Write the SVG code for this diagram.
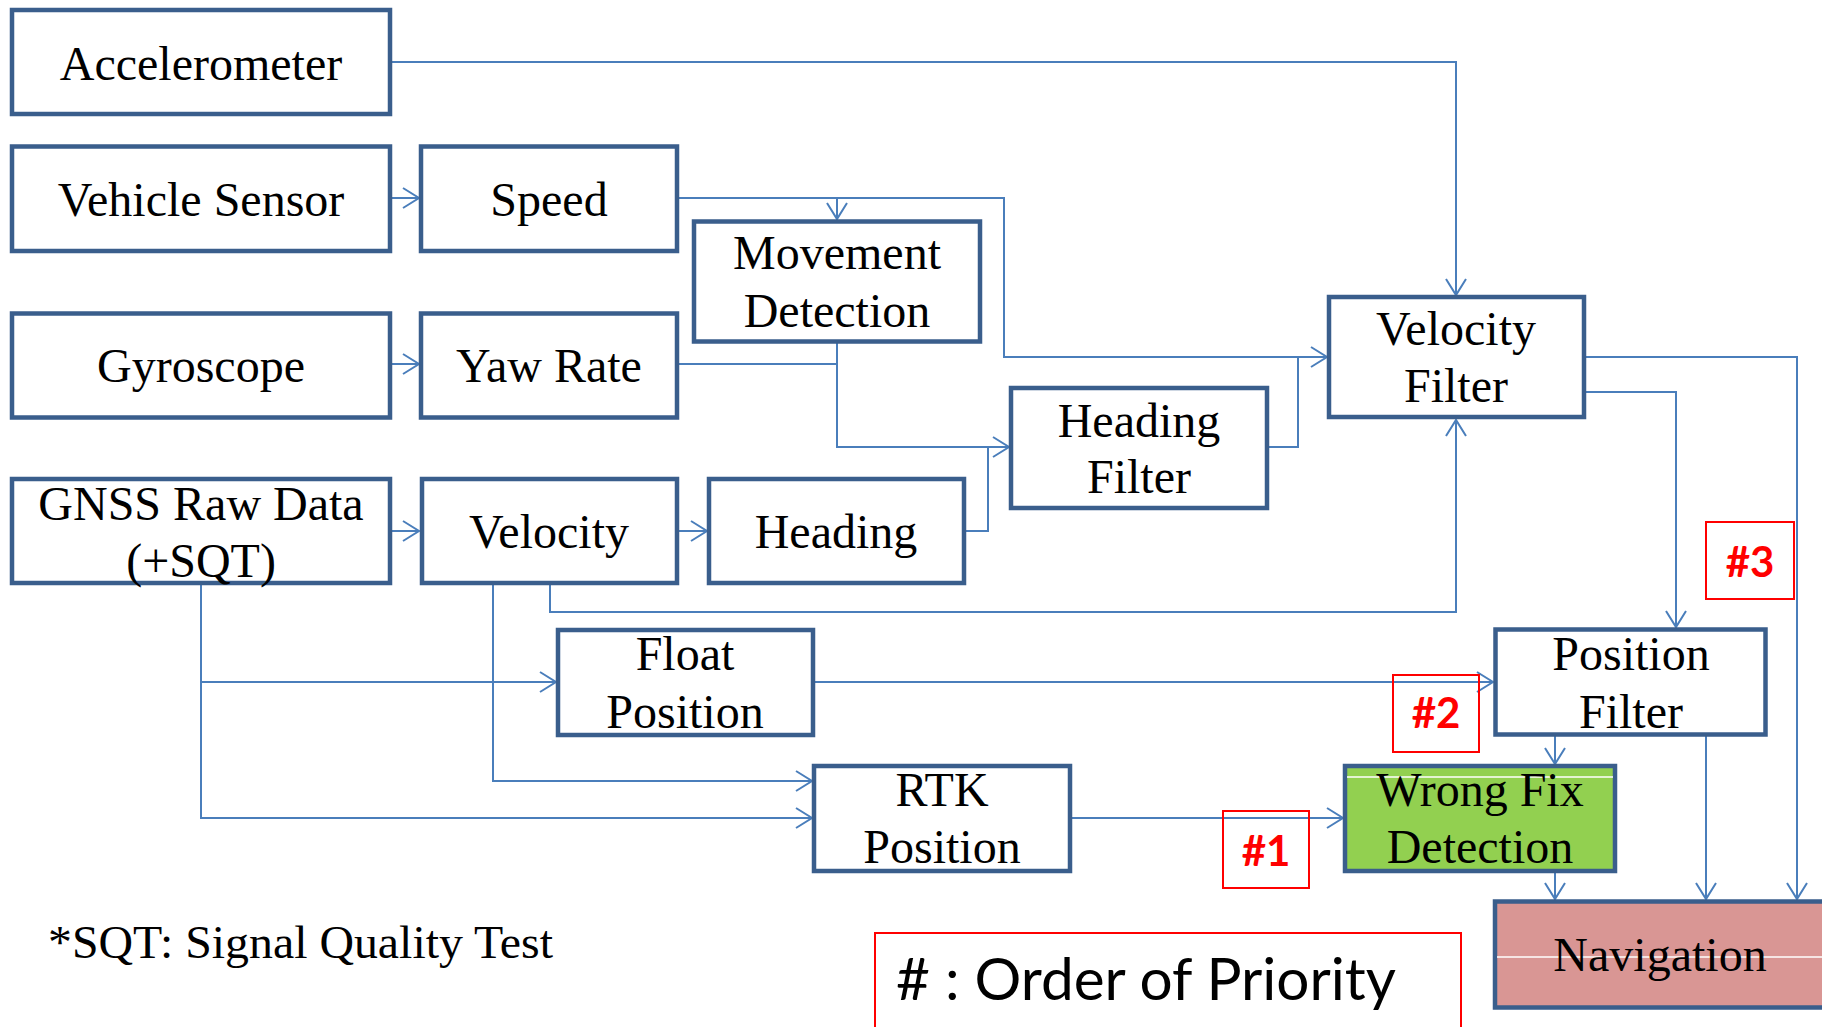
<svg xmlns="http://www.w3.org/2000/svg" width="1822" height="1027" viewBox="0 0 1822 1027">
  <style>
    .box { fill: #ffffff; stroke: #3A5E8C; stroke-width: 4.5; }
    .lbl { font-family: "Liberation Serif", "Times New Roman", serif; font-size: 48px; fill: #000000; text-anchor: middle; }
    .wire { fill: none; stroke: #4A7EBB; stroke-width: 2; }
    .tag { fill: none; stroke: #FF0000; stroke-width: 2; }
    .tagtxt { font-family: Lato, "Open Sans", sans-serif; font-weight: bold; font-size: 42px; fill: #FF0000; text-anchor: middle; }
    .sheen { stroke: #ffffff; stroke-width: 1.5; }
  </style>
  <defs>
    <marker id="arr" markerUnits="userSpaceOnUse" viewBox="0 0 20 22" markerWidth="20" markerHeight="22" refX="17" refY="11" orient="auto">
      <path d="M1 1 L17 11 L1 21" fill="none" stroke="#4A7EBB" stroke-width="2"/>
    </marker>
  </defs>

  <rect width="1822" height="1027" fill="#ffffff"/>

  <!-- connectors -->
  <g id="connectors" class="wire">
    <path d="M392 62 H1456 V295" marker-end="url(#arr)"/>
    <path d="M392 198 H419" marker-end="url(#arr)"/>
    <path d="M392 364 H419" marker-end="url(#arr)"/>
    <path d="M392 531 H419" marker-end="url(#arr)"/>
    <path d="M679 531 H707" marker-end="url(#arr)"/>
    <path d="M679 198 H1004 V357 H1327" marker-end="url(#arr)"/>
    <path d="M837 198 V219" marker-end="url(#arr)"/>
    <path d="M679 364 H837"/>
    <path d="M837 343 V447 H1009" marker-end="url(#arr)"/>
    <path d="M966 531 H988 V447"/>
    <path d="M1269 447 H1298 V357"/>
    <path d="M550 585 V612 H1456 V420" marker-end="url(#arr)"/>
    <path d="M493 585 V781 H812" marker-end="url(#arr)"/>
    <path d="M201 585 V818 H812" marker-end="url(#arr)"/>
    <path d="M201 682 H556" marker-end="url(#arr)"/>
    <path d="M815 682 H1493" marker-end="url(#arr)"/>
    <path d="M1072 818 H1343" marker-end="url(#arr)"/>
    <path d="M1555 736 V764" marker-end="url(#arr)"/>
    <path d="M1555 873 V899" marker-end="url(#arr)"/>
    <path d="M1706 736 V899" marker-end="url(#arr)"/>
    <path d="M1586 357 H1797 V899" marker-end="url(#arr)"/>
    <path d="M1586 392 H1676 V627" marker-end="url(#arr)"/>
  </g>

  <!-- blocks -->
  <g id="accelerometer">
    <rect class="box" x="12" y="10" width="378" height="104"/>
    <text class="lbl" x="201" y="80">Accelerometer</text>
  </g>
  <g id="vehicle-sensor">
    <rect class="box" x="12" y="146.5" width="378" height="104.5"/>
    <text class="lbl" x="201" y="216">Vehicle Sensor</text>
  </g>
  <g id="speed">
    <rect class="box" x="421" y="146.5" width="256" height="104.5"/>
    <text class="lbl" x="549" y="216">Speed</text>
  </g>
  <g id="gyroscope">
    <rect class="box" x="12" y="313.5" width="378" height="104"/>
    <text class="lbl" x="201" y="382">Gyroscope</text>
  </g>
  <g id="yaw-rate">
    <rect class="box" x="421" y="313.5" width="256" height="104"/>
    <text class="lbl" x="549" y="382">Yaw Rate</text>
  </g>
  <g id="gnss">
    <rect class="box" x="12" y="479" width="378" height="104"/>
    <text class="lbl" x="201" y="520">GNSS Raw Data</text>
    <text class="lbl" x="201" y="577">(+SQT)</text>
  </g>
  <g id="velocity">
    <rect class="box" x="422" y="479" width="255" height="104"/>
    <text class="lbl" x="549" y="548">Velocity</text>
  </g>
  <g id="heading">
    <rect class="box" x="709" y="479" width="255" height="104"/>
    <text class="lbl" x="836" y="548">Heading</text>
  </g>
  <g id="movement-detection">
    <rect class="box" x="694" y="221.5" width="286" height="120"/>
    <text class="lbl" x="837" y="269">Movement</text>
    <text class="lbl" x="837" y="327">Detection</text>
  </g>
  <g id="heading-filter">
    <rect class="box" x="1011" y="388" width="256" height="120"/>
    <text class="lbl" x="1139" y="437">Heading</text>
    <text class="lbl" x="1139" y="493">Filter</text>
  </g>
  <g id="velocity-filter">
    <rect class="box" x="1329" y="297" width="255" height="120"/>
    <text class="lbl" x="1456" y="345">Velocity</text>
    <text class="lbl" x="1456" y="402">Filter</text>
  </g>
  <g id="float-position">
    <rect class="box" x="558" y="630" width="255" height="105"/>
    <text class="lbl" x="685" y="670">Float</text>
    <text class="lbl" x="685" y="728">Position</text>
  </g>
  <g id="rtk-position">
    <rect class="box" x="814" y="766" width="256" height="105"/>
    <text class="lbl" x="942" y="806">RTK</text>
    <text class="lbl" x="942" y="863">Position</text>
  </g>
  <g id="position-filter">
    <rect class="box" x="1495.5" y="629.5" width="270" height="105"/>
    <text class="lbl" x="1631" y="670">Position</text>
    <text class="lbl" x="1631" y="728">Filter</text>
  </g>
  <g id="wrong-fix-detection">
    <rect class="box" x="1345" y="766" width="270" height="105" style="fill:#92D050"/>
    <line class="sheen" x1="1347" y1="777" x2="1613" y2="777"/>
    <text class="lbl" x="1480" y="806">Wrong Fix</text>
    <text class="lbl" x="1480" y="863">Detection</text>
  </g>
  <g id="navigation">
    <rect class="box" x="1495" y="901.5" width="340" height="106" style="fill:#D99694"/>
    <line class="sheen" x1="1497" y1="957" x2="1822" y2="957"/>
    <text class="lbl" x="1660" y="971">Navigation</text>
  </g>

  <!-- priority tags -->
  <g id="tag-1">
    <rect class="tag" x="1223" y="811" width="86" height="77"/>
    <text class="tagtxt" x="1266" y="866">#1</text>
  </g>
  <g id="tag-2">
    <rect class="tag" x="1393" y="675" width="86" height="77"/>
    <text class="tagtxt" x="1436" y="728">#2</text>
  </g>
  <g id="tag-3">
    <rect class="tag" x="1706" y="522" width="88" height="77"/>
    <text class="tagtxt" x="1750" y="577">#3</text>
  </g>

  <!-- notes -->
  <g id="sqt-note">
    <text x="48" y="958" font-family="'Liberation Serif', 'Times New Roman', serif" font-size="47" fill="#000000" textLength="505" lengthAdjust="spacingAndGlyphs">*SQT: Signal Quality Test</text>
  </g>
  <g id="priority-legend">
    <rect x="875" y="933" width="586" height="110" fill="none" stroke="#FF0000" stroke-width="2"/>
    <text x="896" y="1000" font-family="Lato, 'Open Sans', sans-serif" font-size="58" fill="#000000" textLength="500" lengthAdjust="spacingAndGlyphs"># : Order of Priority</text>
  </g>
</svg>
